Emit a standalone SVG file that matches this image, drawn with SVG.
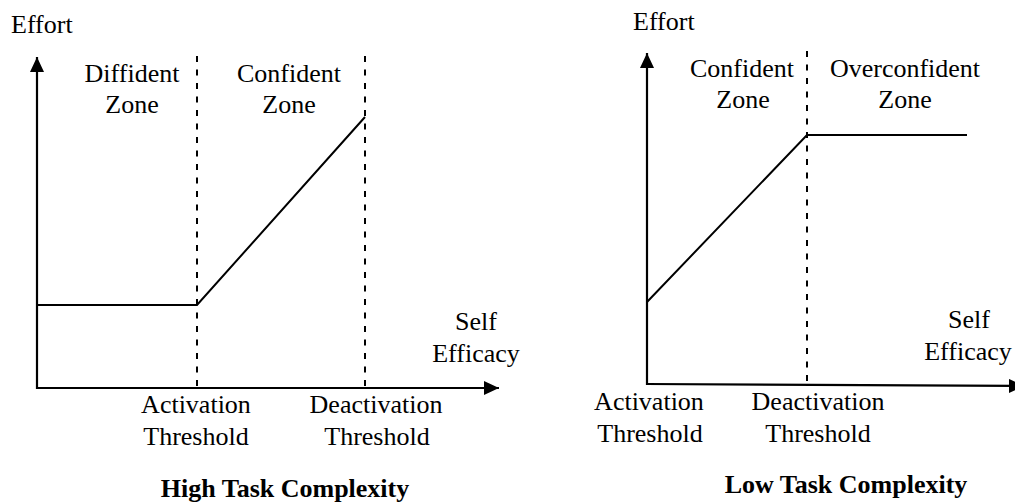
<svg xmlns="http://www.w3.org/2000/svg" width="1015" height="503" viewBox="0 0 1015 503">
<defs>
<marker id="arr" viewBox="0 0 15 14" refX="15" refY="7" markerWidth="15" markerHeight="14" markerUnits="userSpaceOnUse" orient="auto">
<path d="M0,0 L15,7 L0,14 Z" fill="#000"/>
</marker>
<style>
text{font-family:"Liberation Serif","Times New Roman",serif;font-size:26px;fill:#000}
.c{text-anchor:middle}
.b{font-weight:bold}
.ax{stroke:#000;stroke-width:2.2;fill:none}
.cu{stroke:#000;stroke-width:2;fill:none}
.da{stroke:#000;stroke-width:2;stroke-dasharray:6 7.5;fill:none}
</style>
</defs>
<rect width="1015" height="503" fill="#fff"/>
<g id="connectors">
<line class="ax" x1="37" y1="389" x2="37" y2="57" marker-end="url(#arr)"/>
<line class="ax" x1="36" y1="388" x2="499" y2="388" marker-end="url(#arr)"/>
<line class="da" x1="197" y1="56" x2="197" y2="388"/>
<line class="da" x1="365" y1="56" x2="365" y2="388"/>
<polyline class="cu" points="37,305 197,305 365,117"/>
<line class="ax" x1="647" y1="385" x2="647" y2="53" marker-end="url(#arr)"/>
<line class="ax" x1="646" y1="384" x2="1024" y2="386" marker-end="url(#arr)"/>
<line class="da" x1="807" y1="51" x2="807" y2="383"/>
<polyline class="cu" points="647,302 807,135 967,135"/>
</g>
<g id="left-chart">
<text x="11" y="33">Effort</text>
<text class="c" x="132" y="82">Diffident</text>
<text class="c" x="132" y="113">Zone</text>
<text class="c" x="289" y="82">Confident</text>
<text class="c" x="289" y="113">Zone</text>
<text class="c" x="476" y="330">Self</text>
<text class="c" x="476" y="362">Efficacy</text>
<text class="c" x="196" y="413">Activation</text>
<text class="c" x="196" y="445">Threshold</text>
<text class="c" x="376" y="413">Deactivation</text>
<text class="c" x="377" y="445">Threshold</text>
<text class="c b" x="285" y="497">High Task Complexity</text>
</g>
<g id="right-chart">
<text x="633" y="30">Effort</text>
<text class="c" x="742" y="77">Confident</text>
<text class="c" x="743" y="108">Zone</text>
<text class="c" x="905" y="77">Overconfident</text>
<text class="c" x="905" y="108">Zone</text>
<text class="c" x="969" y="328">Self</text>
<text class="c" x="968" y="360">Efficacy</text>
<text class="c" x="649" y="410">Activation</text>
<text class="c" x="650" y="442">Threshold</text>
<text class="c" x="818" y="410">Deactivation</text>
<text class="c" x="818" y="442">Threshold</text>
<text class="c b" x="846" y="493">Low Task Complexity</text>
</g>
</svg>
